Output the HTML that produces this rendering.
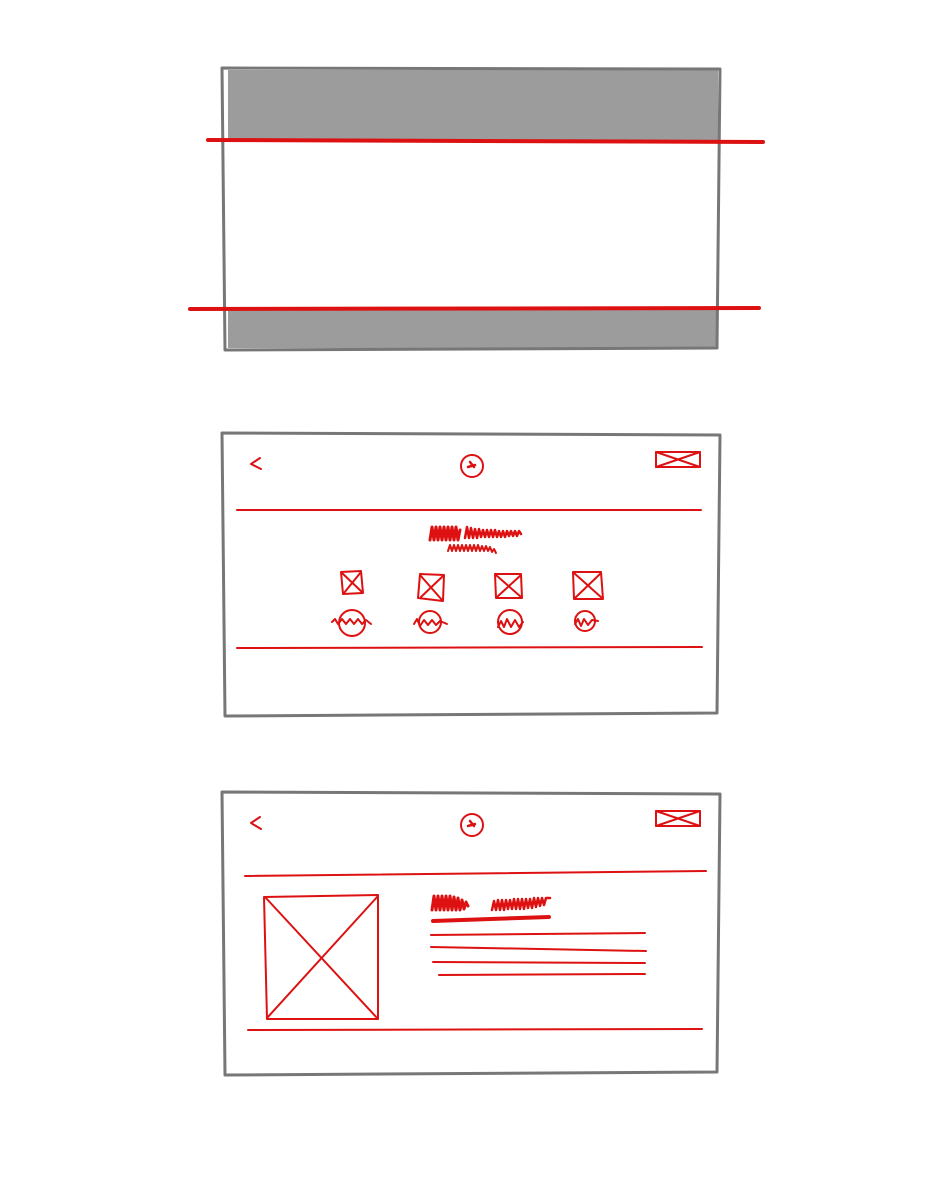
<!DOCTYPE html>
<html><head><meta charset="utf-8"><style>html,body{margin:0;padding:0;background:#fff}svg{display:block}</style></head>
<body>
<svg width="940" height="1200" viewBox="0 0 940 1200" xmlns="http://www.w3.org/2000/svg">
<g fill="none" stroke-linecap="round" stroke-linejoin="round">
<!-- Frame 1 -->
<rect x="228" y="70" width="490" height="71" fill="#9d9c9c" stroke="none"/>
<rect x="228" y="309" width="490" height="39" fill="#9d9c9c" stroke="none"/>
<path d="M222 68 L720 69 L717 348 L225 350 Z" stroke="#777" stroke-width="3"/>
<path d="M208 140 L763 142" stroke="#d11" stroke-width="4"/>
<path d="M190 309 L759 308" stroke="#d11" stroke-width="4"/>

<!-- Frame 2 -->
<path d="M222 433 L720 435 L717 713 L225 716 Z" stroke="#777" stroke-width="3"/>
<g stroke="#d11" stroke-width="2">
<path d="M260 458 L251 464 L261 469"/>
<circle cx="472" cy="466" r="11"/>
<path d="M470 462 L474 467 M468 467 L475 465" stroke-width="2.5"/>
<rect x="656" y="452" width="44" height="15"/>
<path d="M656 452 L700 467 M700 452 L656 467"/>
<path d="M237 510 L701 510"/>
<path d="M237 648 L702 647"/>
<polyline stroke-width="3" points="430,540 432,527 434,540 436,527 438,540 440,527 442,540 444,527 446,540 448,527 450,540 452,527 454,540 456,527 458,540 460,530"/>
<polyline stroke-width="2.5" points="465,538 467,527 469,538 471,528 473,538 475,529 477,538 479,529 481,537 483,530 485,537 487,530 489,537 491,530 493,537 495,530 497,537 499,531 501,537 503,531 505,537 507,531 509,536 511,531 513,536 515,531 517,536 519,531 521,534"/>
<polyline stroke-width="2" points="448,551 450,545 452,551 454,545 456,551 458,545 460,551 462,545 464,551 466,545 468,551 470,545 472,551 474,545 476,551 478,545 480,551 482,546 484,551 486,546 488,551 490,547 492,552 494,549 496,553"/>
<path d="M341 572 L361 571 L363 593 L343 594 Z M342 573 L362 592 M361 572 L344 593"/>
<path d="M420 574 L444 575 L443 601 L418 598 Z M420 575 L442 600 M443 576 L421 597"/>
<path d="M495 574 L521 574 L522 598 L496 598 Z M496 575 L521 597 M521 575 L497 597"/>
<path d="M573 572 L601 572 L603 599 L574 599 Z M574 573 L602 598 M601 573 L575 598"/>
<circle cx="352" cy="623" r="13"/>
<polyline points="332,622 335,619 338,624 342,619 346,624 350,619 354,624 358,619 362,624 366,620 371,624"/>
<circle cx="430" cy="622" r="11"/>
<polyline points="414,624 417,619 420,626 424,620 428,625 432,620 436,625 440,621 447,624"/>
<circle cx="510" cy="622" r="12"/>
<polyline points="498,627 501,621 504,627 507,619 511,627 515,620 519,627 523,622"/>
<circle cx="585" cy="621" r="10"/>
<polyline points="575,624 578,619 581,626 584,619 588,625 592,620 598,621"/>
</g>

<!-- Frame 3 -->
<path d="M222 792 L720 794 L717 1072 L225 1075 Z" stroke="#777" stroke-width="3"/>
<g stroke="#d11" stroke-width="2">
<path d="M260 817 L251 823 L261 829"/>
<circle cx="472" cy="825" r="11"/>
<path d="M470 821 L474 826 M468 826 L475 824" stroke-width="2.5"/>
<rect x="656" y="811" width="44" height="15"/>
<path d="M656 811 L700 826 M700 811 L656 826"/>
<path d="M245 876 L706 871"/>
<path d="M248 1030 L702 1029"/>
<path d="M264 897 L378 895 L378 1019 L267 1019 Z M265 897 L378 1019 M378 896 L267 1018"/>
<polyline stroke-width="3" points="432,910 434,896 436,910 438,896 440,910 442,896 444,910 446,896 448,910 450,896 452,910 454,897 456,910 458,898 460,910 462,900 464,909 466,902 468,906"/>
<polyline stroke-width="2.5" points="492,910 494,901 496,910 498,900 500,910 502,900 504,910 506,900 508,909 510,900 512,909 514,899 516,909 518,899 520,909 522,899 524,909 526,899 528,908 530,899 532,908 534,898 536,907 538,898 540,906 542,898 544,905 546,898 550,898"/>
<path d="M433 921 L549 917" stroke-width="4"/>
<path d="M431 935 L645 933"/>
<path d="M431 947 L646 951"/>
<path d="M433 962 L645 963"/>
<path d="M439 975 L645 974"/>
</g>
</g>
</svg>
</body></html>
